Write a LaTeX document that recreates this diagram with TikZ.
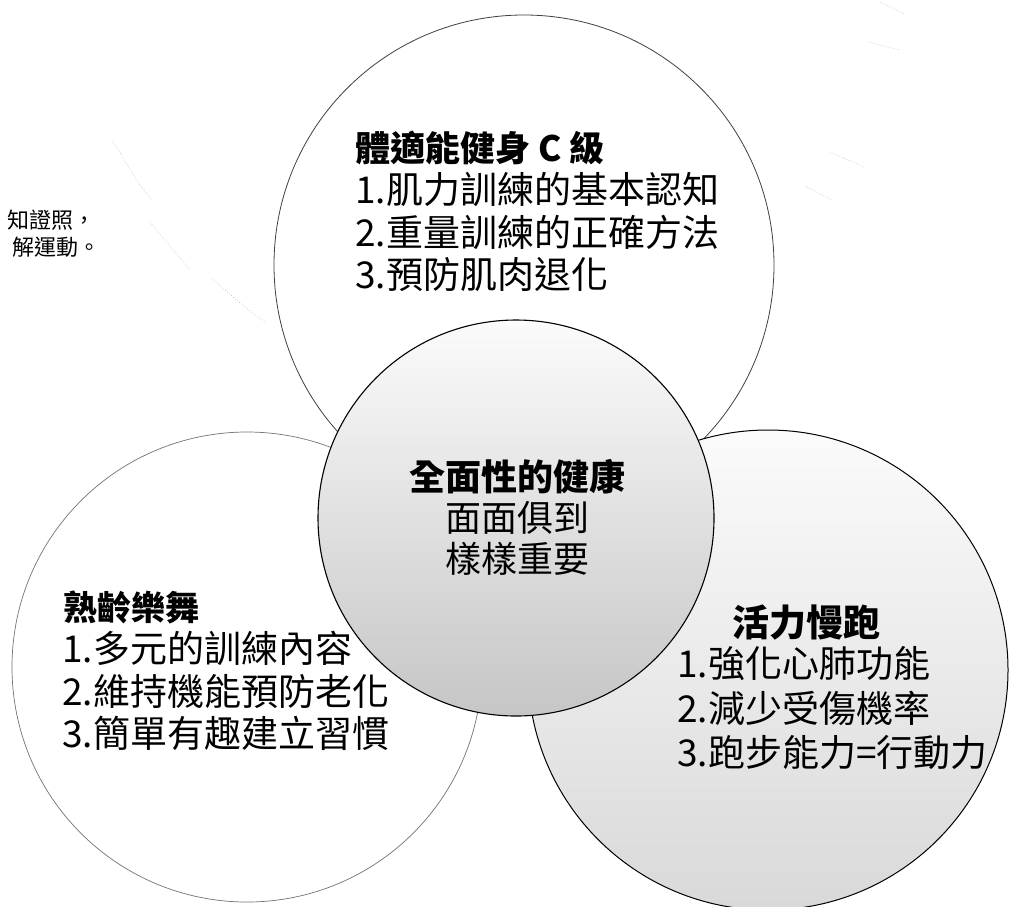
\documentclass[tikz,border=0pt]{standalone}
\usepackage{fontspec}
\setmainfont{Noto Sans CJK TC}
\begin{document}
\begin{tikzpicture}[x=1pt,y=-1pt]
\tikzset{
  ring/.style={circle, inner sep=0pt, outer sep=0pt},
  ttl/.style={anchor=west, inner sep=0pt, font=\fontsize{35}{42}\selectfont\bfseries, text height=28pt, text depth=2pt},
  itm/.style={anchor=west, inner sep=0pt, font=\fontsize{37}{42}\selectfont, text height=29pt, text depth=2pt},
  ctr/.style={anchor=center, inner sep=0pt, font=\fontsize{36}{42}\selectfont, text height=29pt, text depth=2pt},
  side/.style={anchor=west, inner sep=0pt, font=\fontsize{22}{26}\selectfont, text height=18pt, text depth=1pt},
  ghost/.style={draw=gray!55, line width=0.6pt, dotted},
}
\useasboundingbox (0,0) rectangle (1014,906);
\fill[white] (0,0) rectangle (1014,906);

% faint scan artifacts
\draw[ghost] (112,140) .. controls (125,160) and (138,185) .. (152,200);
\draw[ghost] (150,222) .. controls (165,240) and (178,255) .. (190,270);
\draw[ghost] (212,278) .. controls (230,295) and (248,310) .. (265,322);
\draw[ghost] (880,2) -- (905,14);
\draw[ghost] (868,42) -- (900,50);
\draw[ghost] (830,152) -- (866,168);
\draw[ghost] (805,186) -- (832,200);

% circles
\node[ring, draw=black!75, line width=0.8pt, fill=white, minimum size=500pt] (ctop) at (524,265) {};
\node[ring, draw=black!55, line width=0.7pt, fill=white, minimum size=470pt] (cleft) at (247,667) {};
\node[ring, draw=black, line width=1pt, top color=gray!3, bottom color=gray!30, minimum size=480pt] (cright) at (768,670) {};
\node[ring, draw=black, line width=1.1pt, top color=gray!3, bottom color=gray!45, minimum size=396pt] (cmid) at (516,518) {};

% side text (start of the lines lies beyond the left edge)
\node[side] (s1) at (7,220) {知證照，};
\node[side] (s2) at (12,247) {解運動。};

% top circle text
\node[ttl] (t0) at (355,148) {體適能健身 C 級};
\node[itm] (t1) at (355,190) {1.肌力訓練的基本認知};
\node[itm] (t2) at (355,233) {2.重量訓練的正確方法};
\node[itm] (t3) at (355,275) {3.預防肌肉退化};

% center circle text
\node[ctr, font=\fontsize{36}{42}\selectfont\bfseries] (m0) at (517,477) {全面性的健康};
\node[ctr] (m1) at (517,518) {面面俱到};
\node[ctr] (m2) at (517,559) {樣樣重要};

% left circle text
\node[ttl, font=\fontsize{34}{42}\selectfont\bfseries] (l0) at (63,607) {熟齡樂舞};
\node[itm] (l1) at (62,649) {1.多元的訓練內容};
\node[itm] (l2) at (62,692) {2.維持機能預防老化};
\node[itm] (l3) at (62,734) {3.簡單有趣建立習慣};

% right circle text
\node[ttl, font=\fontsize{37}{42}\selectfont\bfseries] (r0) at (732,623) {活力慢跑};
\node[itm] (r1) at (677,664) {1.強化心肺功能};
\node[itm] (r2) at (677,709) {2.減少受傷機率};
\node[itm] (r3) at (677,753) {3.跑步能力=行動力};
\end{tikzpicture}
\end{document}
